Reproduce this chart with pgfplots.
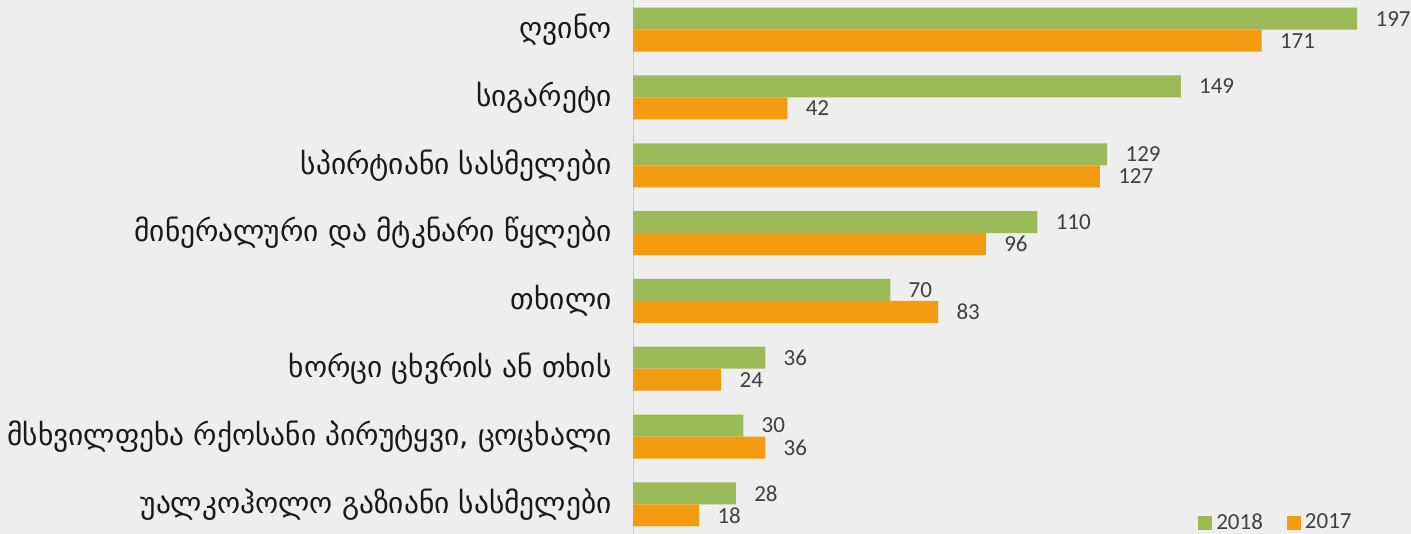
\documentclass[border=0pt]{standalone}
\usepackage{pgfplots}
\pgfplotsset{compat=1.18}
\usepackage{fontspec}
\setmainfont{Carlito}
\newfontfamily\geo{DejaVu Sans}
\definecolor{g18}{HTML}{9BBB59}
\definecolor{o17}{HTML}{F39C12}
\definecolor{bg}{HTML}{EEEEEE}
\definecolor{num}{HTML}{404040}
\begin{document}
\begin{tikzpicture}[x=1pt,y=1pt]
\fill[bg] (0,0) rectangle (705.5,267);
\path[use as bounding box] (0,0) rectangle (705.5,267);
\begin{axis}[at={(316.5pt,0pt)}, anchor=south west, scale only axis,
  width=386pt, height=267pt,
  xmin=0, xmax=210, ymin=-0.438, ymax=7.438, y dir=reverse,
  axis x line=none, axis y line*=left, axis line style={draw=black!20, -},
  ytick={0,...,7},
  yticklabels={ღვინო, სიგარეტი, სპირტიანი სასმელები, მინერალური და მტკნარი წყლები, თხილი, ხორცი ცხვრის ან თხის, {მსხვილფეხა რქოსანი პირუტყვი, ცოცხალი}, უალკოჰოლო გაზიანი სასმელები},
  major tick length=0pt,
  yticklabel style={font=\geo\fontsize{14.7}{16}\selectfont, text=black!90, inner sep=0pt, xshift=-10.5pt},
  xbar, bar width=0.3245, bar shift=0pt,
  nodes near coords, point meta=x,
  /pgf/number format/assume math mode=true,
  nodes near coords style={font=\fontsize{11.5}{13}\selectfont, text=num, anchor=west, inner sep=0pt, xshift=9pt},
  legend columns=2,
  legend style={draw=none, fill=none, at={(0.724,-0.012)}, anchor=south west,
    font=\fontsize{11.5}{13}\selectfont, text=num,
    /tikz/every even column/.append style={column sep=10pt}},
  legend image code/.code={\fill[#1] (0pt,-3.5pt) rectangle (7pt,3.5pt);},
]
\addplot[fill=g18, draw=none] coordinates {(197,-0.1622) (149,0.8378) (129,1.8378) (110,2.8378) (70,3.8378) (36,4.8378) (30,5.8378) (28,6.8378)};
\addplot[fill=o17, draw=none] coordinates {(171,0.1622) (42,1.1622) (127,2.1622) (96,3.1622) (83,4.1622) (24,5.1622) (36,6.1622) (18,7.1622)};
\legend{2018,2017}
\end{axis}
\end{tikzpicture}
\end{document}
